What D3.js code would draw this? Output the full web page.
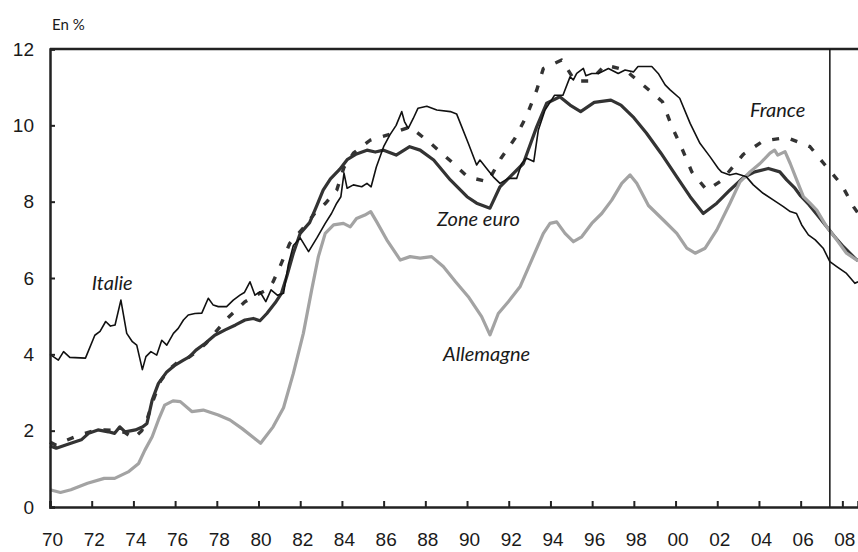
<!DOCTYPE html>
<html>
<head>
<meta charset="UTF-8" />
<title>taux</title>
<style>
    body { margin: 0; background: #fff; }
    svg { display: block; font-family: Lato, 'Open Sans', sans-serif; }
    .axis text { font-size: 19px; fill: #1a1a1a; }
    .label { font-size: 20px; font-style: italic; fill: #1a1a1a; }
</style>
</head>
<body>
<svg id="chart" width="858" height="552"></svg>
<script src="https://cdnjs.cloudflare.com/ajax/libs/d3/7.8.5/d3.min.js"></script>
<script>
// [année, %]
const italie = [[1970.0,4.0],[1970.4,3.85],[1970.65,4.07],[1970.95,3.92],[1971.7,3.9],[1972.15,4.5],[1972.4,4.6],[1972.67,4.86],[1972.9,4.74],[1973.12,4.77],[1973.4,5.42],[1973.68,4.55],[1973.95,4.33],[1974.16,4.24],[1974.43,3.6],[1974.6,3.94],[1974.84,4.07],[1975.12,3.98],[1975.36,4.37],[1975.6,4.24],[1975.92,4.55],[1976.15,4.68],[1976.4,4.9],[1976.63,5.03],[1976.95,5.07],[1977.28,5.08],[1977.59,5.47],[1977.83,5.29],[1978.07,5.25],[1978.47,5.25],[1978.79,5.42],[1979.11,5.55],[1979.32,5.62],[1979.59,5.9],[1979.83,5.55],[1980.07,5.64],[1980.35,5.38],[1980.6,5.69],[1980.9,5.55],[1981.2,5.6],[1981.43,6.35],[1981.67,6.85],[1982.0,7.05],[1982.4,6.69],[1982.8,7.05],[1983.2,7.43],[1983.5,7.69],[1983.75,7.96],[1983.95,8.13],[1984.1,8.75],[1984.25,8.35],[1984.55,8.44],[1984.95,8.39],[1985.2,8.48],[1985.4,8.39],[1985.65,8.91],[1986.0,9.44],[1986.3,9.75],[1986.6,10.0],[1986.87,10.36],[1987.0,10.1],[1987.18,9.92],[1987.42,10.18],[1987.65,10.45],[1988.07,10.5],[1988.55,10.4],[1989.2,10.36],[1989.5,10.3],[1990.06,9.53],[1990.46,8.96],[1990.62,9.09],[1990.94,8.87],[1991.26,8.65],[1991.58,8.48],[1991.98,8.61],[1992.38,8.61],[1992.62,9.0],[1992.86,9.14],[1993.2,9.05],[1993.42,9.88],[1993.74,10.4],[1994.2,10.79],[1994.6,10.79],[1994.94,11.27],[1995.1,11.19],[1995.26,11.36],[1995.58,11.49],[1995.7,11.3],[1995.98,11.36],[1996.3,11.36],[1996.78,11.49],[1997.25,11.36],[1997.58,11.45],[1997.98,11.4],[1998.2,11.54],[1998.86,11.54],[1999.17,11.36],[1999.5,11.06],[1999.74,10.93],[2000.2,10.71],[2000.7,10.05],[2001.17,9.53],[2001.65,9.18],[2002.05,8.87],[2002.2,8.78],[2002.6,8.7],[2002.9,8.74],[2003.4,8.65],[2003.73,8.44],[2004.2,8.22],[2004.7,8.04],[2005.17,7.87],[2005.5,7.74],[2005.8,7.69],[2006.05,7.39],[2006.37,7.13],[2006.7,7.0],[2007.08,6.78],[2007.4,6.43],[2007.73,6.3],[2008.2,6.12],[2008.6,5.86],[2008.75,5.9]]

const zoneEuro = [[1970.0,1.6],[1970.3,1.54],[1971.0,1.67],[1971.5,1.76],[1971.85,1.93],[1972.3,2.02],[1972.8,1.97],[1973.1,1.93],[1973.35,2.1],[1973.6,1.97],[1974.1,2.02],[1974.45,2.1],[1974.65,2.19],[1974.9,2.8],[1975.2,3.24],[1975.6,3.54],[1976.0,3.72],[1976.4,3.85],[1976.7,3.94],[1977.0,4.11],[1977.45,4.29],[1977.9,4.5],[1978.4,4.64],[1978.9,4.77],[1979.35,4.9],[1979.75,4.94],[1980.07,4.88],[1980.4,5.07],[1980.8,5.35],[1981.1,5.6],[1981.35,6.03],[1981.67,6.65],[1982.0,7.17],[1982.45,7.45],[1982.8,7.9],[1983.1,8.3],[1983.45,8.6],[1983.9,8.85],[1984.25,9.1],[1984.7,9.25],[1985.2,9.35],[1985.6,9.3],[1986.0,9.35],[1986.6,9.22],[1987.25,9.44],[1987.75,9.35],[1988.4,9.09],[1989.2,8.57],[1990.0,8.13],[1990.46,7.96],[1991.1,7.83],[1991.58,8.39],[1992.06,8.65],[1992.7,9.0],[1993.34,9.96],[1993.82,10.58],[1994.45,10.75],[1994.94,10.53],[1995.45,10.36],[1996.1,10.6],[1996.9,10.66],[1997.38,10.53],[1998.0,10.2],[1998.6,9.8],[1999.3,9.27],[2000.06,8.65],[2000.7,8.13],[2001.33,7.69],[2001.98,7.96],[2002.6,8.3],[2003.25,8.63],[2003.8,8.78],[2004.45,8.87],[2005.0,8.78],[2005.33,8.57],[2005.7,8.37],[2006.0,8.15],[2006.4,7.92],[2006.8,7.65],[2007.25,7.34],[2007.6,7.1],[2008.05,6.82],[2008.6,6.52],[2008.75,6.45]]

const france = [[1970.0,1.7],[1970.3,1.62],[1970.8,1.75],[1971.4,1.88],[1972.0,1.98],[1972.6,2.02],[1973.2,2.0],[1973.6,1.95],[1974.0,1.8],[1974.4,2.0],[1974.6,2.2],[1974.95,2.8],[1975.3,3.3],[1975.7,3.6],[1976.1,3.78],[1976.6,3.9],[1977.1,4.1],[1977.5,4.3],[1977.9,4.56],[1978.5,4.94],[1979.35,5.38],[1979.9,5.55],[1980.4,5.69],[1980.7,5.9],[1981.03,6.3],[1981.5,6.91],[1982.2,7.34],[1982.7,7.7],[1983.2,7.95],[1983.75,8.3],[1984.1,8.9],[1984.55,9.27],[1985.35,9.61],[1986.2,9.75],[1987.27,9.96],[1988.25,9.53],[1989.2,9.07],[1990.03,8.65],[1991.0,8.52],[1991.63,9.14],[1992.3,9.66],[1992.86,10.25],[1993.34,10.92],[1993.66,11.49],[1994.54,11.71],[1995.18,11.16],[1995.9,11.16],[1996.62,11.58],[1997.58,11.45],[1998.54,11.01],[1999.37,10.62],[1999.8,10.0],[2000.3,9.4],[2000.78,8.78],[2001.5,8.3],[2002.2,8.55],[2003.25,9.24],[2004.2,9.59],[2005.33,9.68],[2006.45,9.44],[2007.17,8.96],[2007.97,8.44],[2008.53,7.87],[2008.75,7.7]]

const allemagne = [[1970.0,0.45],[1970.5,0.38],[1971.0,0.45],[1971.8,0.62],[1972.6,0.75],[1973.1,0.75],[1973.75,0.92],[1974.25,1.14],[1974.55,1.49],[1974.9,1.84],[1975.2,2.28],[1975.5,2.67],[1975.9,2.78],[1976.25,2.76],[1976.8,2.5],[1977.35,2.54],[1978.07,2.41],[1978.63,2.28],[1979.2,2.06],[1979.8,1.8],[1980.1,1.67],[1980.7,2.1],[1981.2,2.6],[1981.67,3.5],[1982.15,4.55],[1982.55,5.69],[1982.87,6.56],[1983.2,7.17],[1983.6,7.39],[1984.07,7.43],[1984.4,7.34],[1984.7,7.56],[1985.1,7.65],[1985.38,7.74],[1985.67,7.47],[1986.15,7.0],[1986.8,6.47],[1987.27,6.56],[1987.75,6.52],[1988.3,6.56],[1988.86,6.3],[1989.45,5.9],[1990.06,5.51],[1990.7,4.99],[1991.1,4.51],[1991.5,5.07],[1991.98,5.38],[1992.54,5.77],[1993.1,6.47],[1993.66,7.17],[1993.98,7.43],[1994.3,7.47],[1994.7,7.17],[1995.1,6.95],[1995.5,7.08],[1995.98,7.43],[1996.46,7.69],[1996.94,8.04],[1997.42,8.48],[1997.82,8.7],[1998.14,8.48],[1998.7,7.9],[1999.45,7.5],[2000.06,7.17],[2000.54,6.78],[2000.94,6.65],[2001.42,6.78],[2001.98,7.26],[2002.61,7.96],[2003.09,8.52],[2003.57,8.78],[2004.05,9.0],[2004.53,9.27],[2004.75,9.35],[2004.9,9.22],[2005.25,9.31],[2005.5,9.0],[2005.81,8.57],[2006.13,8.13],[2006.45,7.96],[2006.77,7.78],[2007.25,7.34],[2007.73,7.0],[2008.2,6.65],[2008.75,6.45]]

const xTicks = d3.range(1970, 2009, 2)
const yTicks = [0, 2, 4, 6, 8, 10, 12]
const cutoff = 2007.4

// étiquettes : [texte, année, %]
const labels = [['Italie', 1972.0, 5.69], ['Zone euro', 1988.56, 7.36], ['France', 2003.57, 10.22], ['Allemagne', 1988.85, 3.82]]

const svg = d3.select('#chart')
const x = d3.scaleLinear().domain([1970, 2008.75]).range([50, 858])
const y = d3.scaleLinear().domain([0, 12]).range([507, 49])

svg.append('text')
    .attr('x', 52).attr('y', 30)
    .style('font-size', '15px').style('fill', '#1a1a1a')
    .text('En %')

const line = d3.line().x(d => x(d[0])).y(d => y(d[1]))

const series = [
    { data: zoneEuro, color: '#333', width: 3.2 },
    { data: allemagne, color: '#a3a3a3', width: 3.2 },
    { data: france, color: '#333', width: 3.4, dash: '7,12' },
    { data: italie, color: '#111', width: 1.6 }
]

svg.selectAll('path.serie')
    .data(series)
    .join('path')
    .attr('class', 'serie')
    .attr('fill', 'none')
    .attr('stroke', d => d.color)
    .attr('stroke-width', d => d.width)
    .attr('stroke-dasharray', d => d.dash || null)
    .attr('stroke-linejoin', 'round')
    .attr('d', d => line(d.data))

// cadre
svg.append('line')
    .attr('x1', x(1970)).attr('x2', 858)
    .attr('y1', y(12)).attr('y2', y(12))
    .attr('stroke', '#222').attr('stroke-width', 2.5)

svg.append('line')
    .attr('x1', x(cutoff)).attr('x2', x(cutoff))
    .attr('y1', y(12)).attr('y2', y(0))
    .attr('stroke', '#111').attr('stroke-width', 1.5)

const xAxis = svg.append('g')
    .attr('class', 'axis')
    .attr('transform', `translate(0,${y(0)})`)
    .call(d3.axisBottom(x).tickValues(xTicks).tickSize(-6).tickPadding(26)
        .tickFormat(d => String(d % 100).padStart(2, '0')))

const yAxis = svg.append('g')
    .attr('class', 'axis')
    .attr('transform', `translate(${x(1970)},0)`)
    .call(d3.axisLeft(y).tickValues(yTicks).tickSize(-5).tickPadding(16))

svg.selectAll('.axis .domain').attr('stroke', '#222').attr('stroke-width', 2.5)
svg.selectAll('.axis .tick line').attr('stroke', '#222').attr('stroke-width', 2)
xAxis.selectAll('text').attr('dx', 2)

svg.selectAll('text.label')
    .data(labels)
    .join('text')
    .attr('class', 'label')
    .attr('x', d => x(d[1]))
    .attr('y', d => y(d[2]))
    .text(d => d[0])
</script>
</body>
</html>
